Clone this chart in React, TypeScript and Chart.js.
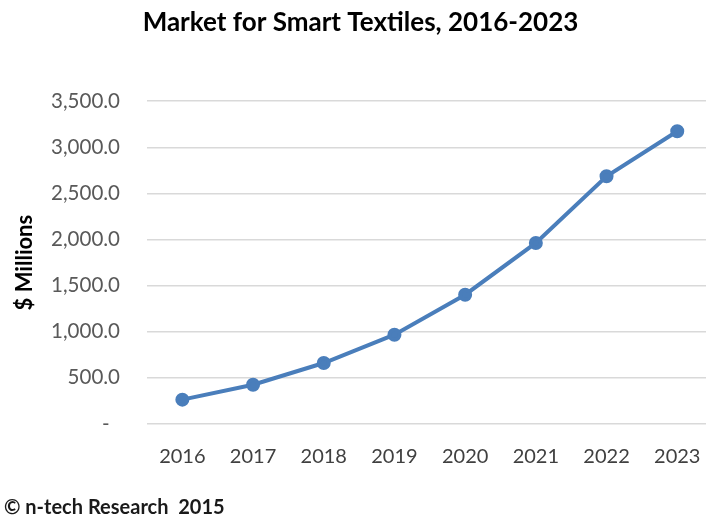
import React, { useEffect, useRef } from "react";
import { Chart, registerables } from "chart.js";

Chart.register(...registerables);

const categories = ["2016", "2017", "2018", "2019", "2020", "2021", "2022", "2023"];
const marketValues = [264, 426, 661, 968, 1402, 1963, 2686, 3174];
const yMin = 0;
const yMax = 3500;
const yStep = 500;
const chartTitle = "Market for Smart Textiles, 2016-2023";
const yAxisTitle = "$ Millions";
const footerText = "© n-tech Research  2015";

const FONT = "Lato, 'Open Sans', sans-serif";

export default function App() {
  const canvasRef = useRef<HTMLCanvasElement | null>(null);

  useEffect(() => {
    if (!canvasRef.current) return;
    const chart = new Chart(canvasRef.current, {
      type: "line",
      data: {
        labels: categories,
        datasets: [
          {
            data: marketValues,
            borderColor: "#4A7EBB",
            backgroundColor: "#4A7EBB",
            borderWidth: 4,
            pointRadius: 5,
            pointHoverRadius: 5,
            pointBackgroundColor: "#4A7EBB",
            pointBorderColor: "#4A7EBB",
            tension: 0,
          },
        ],
      },
      options: {
        animation: false,
        responsive: false,
        maintainAspectRatio: false,
        layout: { padding: { left: 4, right: 5, top: 0, bottom: 0 } },
        plugins: {
          legend: { display: false },
          tooltip: { enabled: false },
          title: {
            display: true,
            text: chartTitle,
            color: "#000000",
            font: { family: FONT, size: 26, weight: "bold" },
            padding: { top: 7, bottom: 63 },
          },
          subtitle: {
            display: true,
            text: footerText,
            position: "bottom",
            align: "start",
            color: "#1a1a1a",
            font: { family: FONT, size: 20, weight: "bold" },
            padding: { top: 6, bottom: 0 },
          },
        },
        scales: {
          x: {
            type: "category",
            offset: true,
            grid: { display: false, drawTicks: false },
            border: { display: false },
            ticks: {
              color: "#404040",
              font: { family: FONT, size: 20 },
              padding: 21,
              maxRotation: 0,
              autoSkip: false,
            },
          },
          y: {
            min: yMin,
            max: yMax,
            afterFit: (scale: any) => {
              scale.width = 143;
            },
            grid: { color: "#D9D9D9", lineWidth: 1.5, drawTicks: false },
            border: { display: false },
            ticks: {
              stepSize: yStep,
              color: "#595959",
              font: { family: FONT, size: 20.5 },
              padding: 27,
              callback: (value: any) =>
                Number(value) === 0
                  ? "-  "
                  : Number(value).toLocaleString("en-US", {
                      minimumFractionDigits: 1,
                      maximumFractionDigits: 1,
                    }),
            },
            title: {
              display: true,
              text: yAxisTitle,
              color: "#000000",
              font: { family: FONT, size: 22, weight: "bold" },
              padding: { top: 8, bottom: 0 },
            },
          },
        },
      },
    });
    return () => chart.destroy();
  }, []);

  return (
    <div
      style={{
        position: "fixed",
        left: 0,
        top: 0,
        width: 706,
        height: 520,
        overflow: "hidden",
        background: "#ffffff",
      }}
    >
      <canvas ref={canvasRef} width={722} height={520} style={{ display: "block", width: 722, height: 520 }} />
    </div>
  );
}
